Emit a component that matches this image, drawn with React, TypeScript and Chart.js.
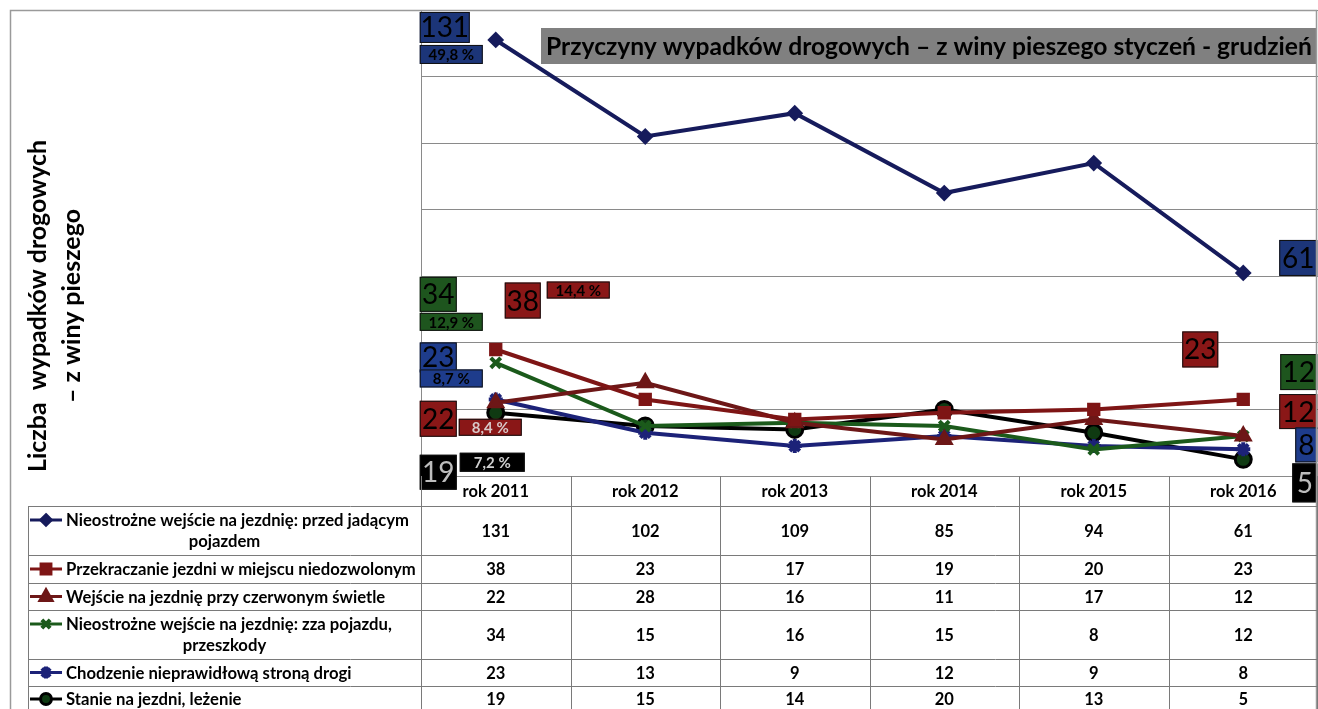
import React, { useEffect, useRef } from 'react';
import { Chart, registerables } from 'chart.js';
Chart.register(...registerables);

const years = ['rok 2011', 'rok 2012', 'rok 2013', 'rok 2014', 'rok 2015', 'rok 2016'];
const seriesNames = [
  ['Nieostrożne wejście na jezdnię: przed jadącym', 'pojazdem'],
  ['Przekraczanie jezdni w miejscu niedozwolonym'],
  ['Wejście na jezdnię przy czerwonym świetle'],
  ['Nieostrożne wejście na jezdnię: zza pojazdu,', 'przeszkody'],
  ['Chodzenie nieprawidłową stroną drogi'],
  ['Stanie na jezdni, leżenie'],
];
const przedPojazdem = [131, 102, 109, 85, 94, 61];
const niedozwolone = [38, 23, 17, 19, 20, 23];
const czerwoneSwiatlo = [22, 28, 16, 11, 17, 12];
const zzaPojazdu = [34, 15, 16, 15, 8, 12];
const zlaStrona = [23, 13, 9, 12, 9, 8];
const stanie = [19, 15, 14, 20, 13, 5];
const firstPercents = ['49,8 %', '14,4 %', '8,4 %', '12,9 %', '8,7 %', '7,2 %'];
const chartTitle = 'Przyczyny wypadków drogowych – z winy pieszego styczeń - grudzień';
const yTitle = ['Liczba  wypadków drogowych', '– z winy pieszego'];
const yMax = 140;
const yStep = 20;

const seriesData = [przedPojazdem, niedozwolone, czerwoneSwiatlo, zzaPojazdu, zlaStrona, stanie];

const styles = [
  { line: '#161b5c', fill: '#161b5c', point: 'rectRot', r: 7, bw: 2, box: '#1c3578', valTxt: '#000', pctTxt: '#000' },
  { line: '#7e1515', fill: '#7e1515', point: 'rect', r: 8, bw: 2, box: '#8a1717', valTxt: '#000', pctTxt: '#000' },
  { line: '#6d1717', fill: '#6d1717', point: 'triangle', r: 9, bw: 2, box: '#8a1717', valTxt: '#000', pctTxt: '#d8c8c8' },
  { line: '#1b5a1b', fill: '#1b5a1b', point: 'crossRot', r: 7, bw: 4, box: '#1e551e', valTxt: '#000', pctTxt: '#000' },
  { line: '#1c2278', fill: '#1c2278', point: 'star', r: 7, bw: 4, box: '#1e3c8c', valTxt: '#000', pctTxt: '#000' },
  { line: '#000000', fill: '#0f3a12', point: 'circle', r: 8, bw: 3, box: '#000000', valTxt: '#bdbdbd', pctTxt: '#d0d0d0' },
];

// label box placement relative to the first / last point (layout only)
const labelLayout = [
  { v: [-76, -28, 50, 31], p: [-76, 5, 63, 19], l: [36, -33, 38, 36] },
  { v: [9, -67, 36, 36], p: [51, -68, 63, 17], l: [-61, -68, 36, 36] },
  { v: [-76, -2, 37, 36], p: [-37, 16, 63, 17], l: [36, -42, 38, 35] },
  { v: [-76, -86, 37, 35], p: [-76, -50, 63, 18], l: [37, -82, 37, 36] },
  { v: [-76, -57, 37, 30], p: [-76, -30, 63, 18], l: [52, -22, 22, 35] },
  { v: [-76, 42, 37, 35], p: [-36, 40, 65, 19], l: [49, 4, 25, 39] },
];

const FONT = 'Lato, "Open Sans", sans-serif';

function drawMarker(ctx: CanvasRenderingContext2D, i: number, x: number, y: number) {
  const s = styles[i];
  const r = s.r * 0.85;
  ctx.save();
  ctx.fillStyle = s.fill;
  ctx.strokeStyle = s.line;
  ctx.lineWidth = s.bw;
  ctx.beginPath();
  if (s.point === 'rectRot') {
    ctx.moveTo(x, y - r); ctx.lineTo(x + r, y); ctx.lineTo(x, y + r); ctx.lineTo(x - r, y); ctx.closePath();
    ctx.fill(); ctx.stroke();
  } else if (s.point === 'rect') {
    ctx.rect(x - r * 0.8, y - r * 0.8, r * 1.6, r * 1.6); ctx.fill(); ctx.stroke();
  } else if (s.point === 'triangle') {
    ctx.moveTo(x, y - r); ctx.lineTo(x + r * 0.9, y + r * 0.6); ctx.lineTo(x - r * 0.9, y + r * 0.6); ctx.closePath();
    ctx.fill(); ctx.stroke();
  } else if (s.point === 'crossRot') {
    const d = r * 0.7;
    ctx.moveTo(x - d, y - d); ctx.lineTo(x + d, y + d); ctx.moveTo(x + d, y - d); ctx.lineTo(x - d, y + d); ctx.stroke();
  } else if (s.point === 'star') {
    const d = r * 0.7;
    ctx.moveTo(x - d, y - d); ctx.lineTo(x + d, y + d); ctx.moveTo(x + d, y - d); ctx.lineTo(x - d, y + d);
    ctx.moveTo(x, y - r); ctx.lineTo(x, y + r); ctx.stroke();
  } else {
    ctx.arc(x, y, r * 0.8, 0, Math.PI * 2); ctx.fill(); ctx.stroke();
  }
  ctx.restore();
}

function fitExact(ctx: CanvasRenderingContext2D, text: string, weight: string, targetW: number) {
  ctx.font = `${weight} 20px ${FONT}`;
  const w = ctx.measureText(text).width;
  const sz = (20 * targetW) / w;
  ctx.font = `${weight} ${sz.toFixed(2)}px ${FONT}`;
  return sz;
}

const overlayPlugin = {
  id: 'overlay',
  afterDatasetsDraw(chart: any) {
    const ctx: CanvasRenderingContext2D = chart.ctx;
    const xs = chart.scales.x;
    const ys = chart.scales.y;
    const area = chart.chartArea;
    const box = (x: number, y: number, w: number, h: number, fill: string, txt: string, color: string, font: string) => {
      ctx.fillStyle = fill;
      ctx.fillRect(x, y, w, h);
      ctx.strokeStyle = '#111';
      ctx.lineWidth = 1;
      ctx.strokeRect(x + 0.5, y + 0.5, w - 1, h - 1);
      ctx.fillStyle = color;
      ctx.font = font;
      ctx.textAlign = 'center';
      ctx.textBaseline = 'middle';
      ctx.fillText(txt, x + w / 2, y + h / 2 + 1);
    };
    seriesData.forEach((data, i) => {
      const s = styles[i];
      const L = labelLayout[i];
      const fx = xs.getPixelForValue(0);
      const fy = ys.getPixelForValue(data[0]);
      const lx = xs.getPixelForValue(data.length - 1);
      const ly = ys.getPixelForValue(data[data.length - 1]);
      box(fx + L.v[0], fy + L.v[1], L.v[2], L.v[3], s.box, String(data[0]), s.valTxt, `28px ${FONT}`);
      box(fx + L.p[0], fy + L.p[1], L.p[2], L.p[3], s.box, firstPercents[i], s.pctTxt, `bold 15px ${FONT}`);
      box(lx + L.l[0], ly + L.l[1], L.l[2], L.l[3], s.box, String(data[data.length - 1]), s.valTxt, `28px ${FONT}`);
    });

    // title
    ctx.fillStyle = '#808080';
    ctx.fillRect(541, area.top + 18, area.right - 543, 36);
    ctx.fillStyle = '#000';
    fitExact(ctx, chartTitle, 'bold', 766);
    ctx.textAlign = 'left';
    ctx.textBaseline = 'middle';
    ctx.fillText(chartTitle, 546, area.top + 37);

    // frame
    ctx.strokeStyle = '#9a9a9a';
    ctx.lineWidth = 1.5;
    ctx.beginPath();
    ctx.moveTo(10.5, 709); ctx.lineTo(10.5, 10.5); ctx.lineTo(1316.5, 10.5); ctx.lineTo(1316.5, 709);
    ctx.stroke();

    // y title
    ctx.save();
    ctx.translate(38, 306);
    ctx.rotate(-Math.PI / 2);
    ctx.fillStyle = '#000';
    ctx.textAlign = 'center';
    ctx.textBaseline = 'middle';
    fitExact(ctx, yTitle[0], 'bold', 332);
    ctx.fillText(yTitle[0], 0, 0);
    ctx.fillText(yTitle[1], 0, 34);
    ctx.restore();

    // data table
    const colW = (area.right - area.left) / years.length;
    const tableLeft = 28;
    const rowLines = [506, 555, 583, 610, 659, 686, 713];
    ctx.strokeStyle = '#7a7a7a';
    ctx.lineWidth = 1;
    ctx.beginPath();
    rowLines.forEach((y) => { ctx.moveTo(tableLeft, y + 0.5); ctx.lineTo(area.right, y + 0.5); });
    ctx.moveTo(tableLeft + 0.5, 506); ctx.lineTo(tableLeft + 0.5, 709);
    for (let c = 0; c <= years.length; c++) {
      const x = Math.min(Math.round(area.left + c * colW), 1317) + 0.5;
      ctx.moveTo(x, area.bottom); ctx.lineTo(x, 709);
    }
    ctx.stroke();

    ctx.fillStyle = '#000';
    ctx.textAlign = 'center';
    ctx.textBaseline = 'middle';
    ctx.font = `bold 16.5px ${FONT}`;
    years.forEach((y, c) => ctx.fillText(y, xs.getPixelForValue(c), 492));

    const labelCenter = (tableLeft + area.left) / 2;
    const labelSize = fitExact(ctx, seriesNames[1][0], 'bold', 350);
    const LABEL_FONT = `bold ${labelSize.toFixed(2)}px ${FONT}`;
    seriesData.forEach((data, i) => {
      const top = rowLines[i];
      const bottom = rowLines[i + 1];
      const names = seriesNames[i];
      const midY = names.length > 1 ? top + 14 : (i === 5 ? 699 : (top + bottom) / 2);
      const rowMid = i === 5 ? 699 : (top + bottom) / 2;
      const keyW = 36;
      const startX = 30;
      ctx.save();
      ctx.strokeStyle = styles[i].line;
      ctx.lineWidth = 3;
      ctx.beginPath();
      ctx.moveTo(startX, midY); ctx.lineTo(startX + keyW - 4, midY);
      ctx.stroke();
      ctx.restore();
      drawMarker(ctx, i, startX + (keyW - 4) / 2, midY);
      ctx.fillStyle = '#000';
      ctx.textAlign = 'left';
      ctx.font = LABEL_FONT;
      ctx.fillText(names[0], startX + keyW, midY + 1);
      if (names.length > 1) {
        ctx.textAlign = 'center';
        ctx.fillText(names[1], labelCenter, top + 36);
      }
      ctx.textAlign = 'center';
      ctx.font = `bold 16.5px ${FONT}`;
      data.forEach((v, c) => ctx.fillText(String(v), xs.getPixelForValue(c), rowMid + 1));
    });
  },
};

export default function App() {
  const ref = useRef<HTMLCanvasElement | null>(null);
  useEffect(() => {
    document.body.style.margin = '0';
    if (!ref.current) return;
    const chart = new Chart(ref.current, {
      type: 'line',
      data: {
        labels: years,
        datasets: seriesData.map((d, i) => ({
          label: seriesNames[i].join(' '),
          data: d,
          borderColor: styles[i].line,
          backgroundColor: styles[i].fill,
          pointBackgroundColor: styles[i].fill,
          pointBorderColor: styles[i].line,
          pointBorderWidth: styles[i].bw,
          pointStyle: styles[i].point as any,
          pointRadius: styles[i].r,
          borderWidth: 4,
          tension: 0,
        })),
      },
      options: {
        animation: false,
        responsive: false,
        devicePixelRatio: 1,
        layout: { autoPadding: false, padding: { left: 421, right: 0, top: 10, bottom: 233 } },
        plugins: { legend: { display: false }, title: { display: false }, tooltip: { enabled: false } },
        scales: {
          x: { display: false, offset: true },
          y: {
            min: 0,
            max: yMax,
            ticks: { display: false, stepSize: yStep },
            grid: { color: '#8a8a8a', drawTicks: false, lineWidth: 1 },
            border: { display: true, color: '#8a8a8a' },
          },
        },
      },
      plugins: [overlayPlugin],
    });
    return () => chart.destroy();
  }, []);
  return (
    <div style={{ width: 1318, height: 709, background: '#fff' }}>
      <canvas ref={ref} width={1318} height={709} style={{ display: 'block', width: 1318, height: 709 }} />
    </div>
  );
}
